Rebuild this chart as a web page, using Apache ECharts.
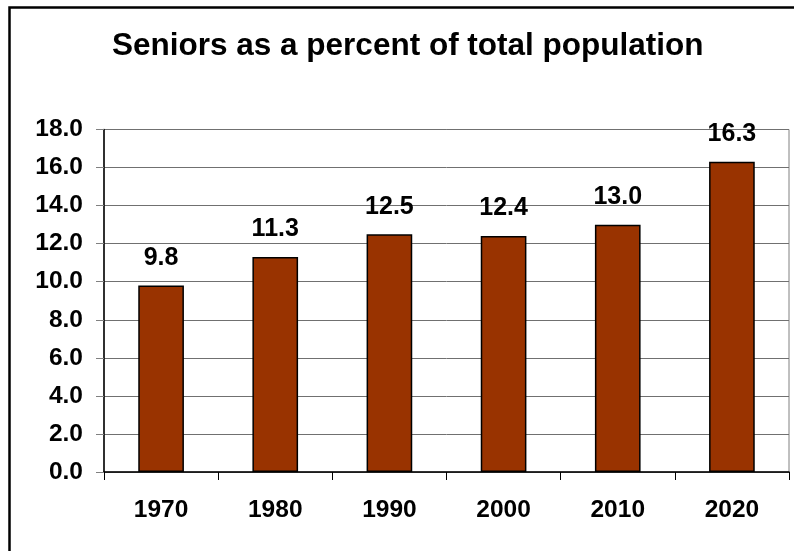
<!DOCTYPE html>
<html>
<head>
<meta charset="utf-8">
<script src="https://cdn.jsdelivr.net/npm/echarts@6/dist/echarts.min.js"></script>
<style>
html,body{margin:0;padding:0;background:#fff;}
#c{width:794px;height:551px;}
</style>
</head>
<body>
<div id="c"></div>
<script>
var titleText = "Seniors as a percent of total population";
var categories = ["1970", "1980", "1990", "2000", "2010", "2020"];
var values = [9.8, 11.3, 12.5, 12.4, 13.0, 16.3];

var chart = echarts.init(document.getElementById('c'));
var font = 'Liberation Sans, Arial, sans-serif';
chart.setOption({
  animation: false,
  backgroundColor: '#fff',
  title: {
    text: titleText,
    left: 112,
    top: 30,
    padding: 0,
    textStyle: { fontFamily: font, fontWeight: 'bold', fontSize: 31.5, color: '#000' }
  },
  graphic: [{
    type: 'rect',
    shape: { x: 9.5, y: 7.5, width: 900, height: 700 },
    style: { fill: 'none', stroke: '#000', lineWidth: 2.5 },
    silent: true
  }],
  grid: {
    left: 104, right: 5, top: 129.5, bottom: 79,
    show: true, borderColor: '#808080', borderWidth: 1, backgroundColor: 'transparent'
  },
  xAxis: {
    type: 'category',
    data: categories,
    axisLine: { show: true, lineStyle: { color: '#000', width: 1.5 } },
    axisTick: { show: true, length: 8, lineStyle: { color: '#000', width: 1 } },
    axisLabel: { margin: 26, fontFamily: font, fontWeight: 'bold', fontSize: 24.5, color: '#000' }
  },
  yAxis: {
    type: 'value',
    min: 0, max: 18, interval: 2,
    axisLine: { show: true, lineStyle: { color: '#000', width: 1.5 } },
    axisTick: { show: true, length: 8, lineStyle: { color: '#808080', width: 1 } },
    splitLine: { show: true, lineStyle: { color: '#707070', width: 1 } },
    axisLabel: {
      margin: 21, fontFamily: font, fontWeight: 'bold', fontSize: 24.5, color: '#000',
      formatter: function (v) { return v.toFixed(1); }
    }
  },
  series: [{
    type: 'bar',
    data: values,
    barWidth: '40%',
    itemStyle: { color: '#993300', borderColor: '#000', borderWidth: 1.5 },
    label: {
      show: true, position: 'top', distance: 15,
      fontFamily: font, fontWeight: 'bold', fontSize: 25, color: '#000',
      formatter: function (p) { return p.value.toFixed(1); }
    }
  }]
});
</script>
</body>
</html>
